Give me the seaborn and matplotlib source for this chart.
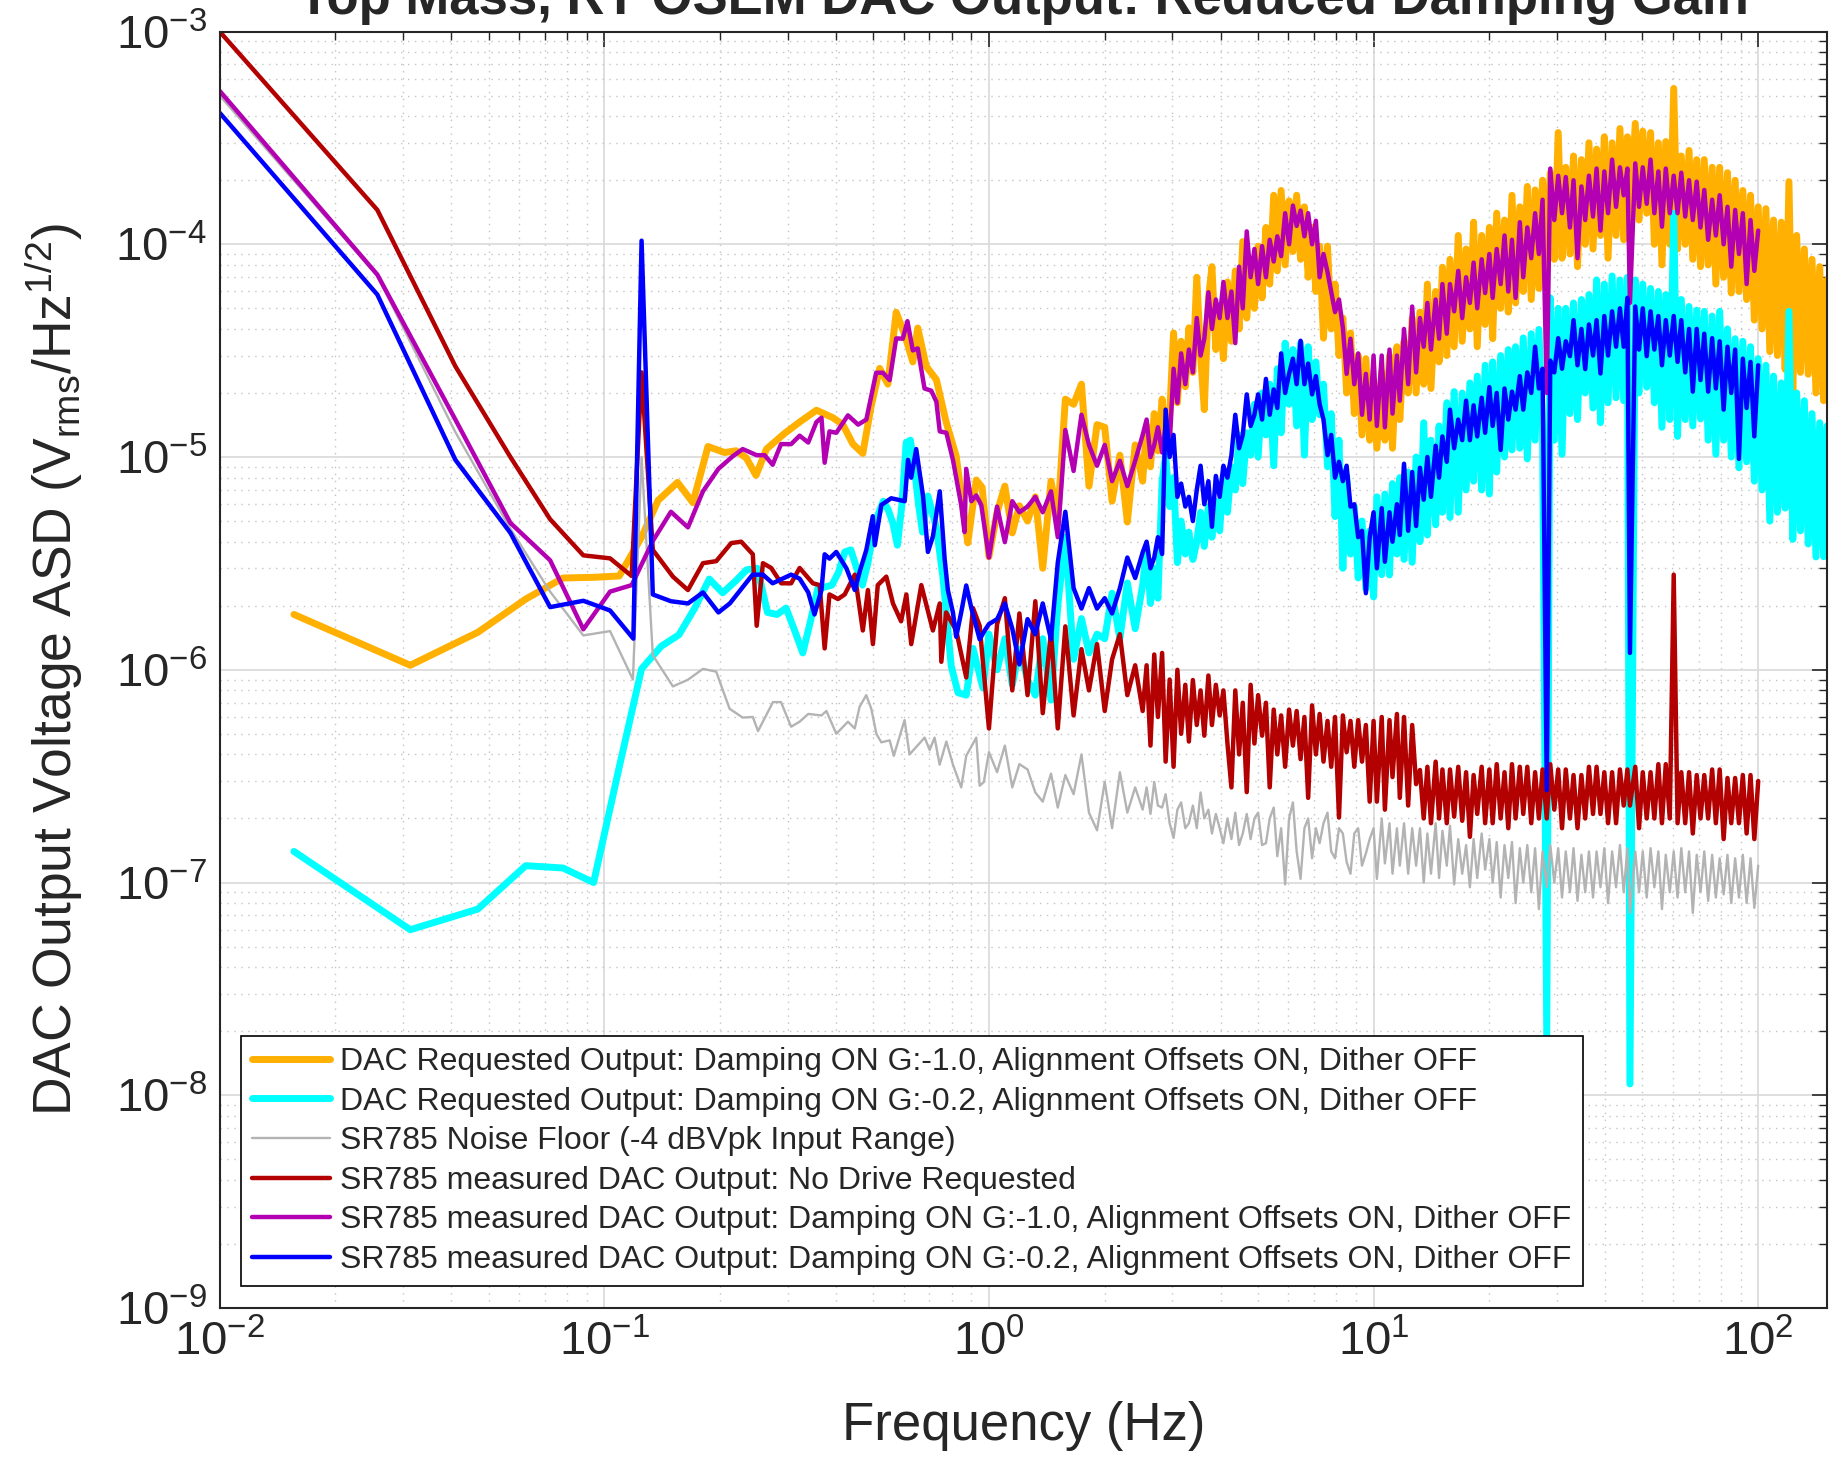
import numpy as np
import pandas as pd
import matplotlib
matplotlib.use('Agg')
import matplotlib.pyplot as plt
import seaborn as sns
from matplotlib.ticker import LogLocator, NullFormatter, LogFormatterSciNotation

# ---------------------------
# data
# ---------------------------

# shared frequency grid for the dense part of the spectra (Hz)
f_band = [
    1.0, 1.05, 1.1, 1.15, 1.2, 1.26, 1.32, 1.38, 1.45, 1.51,
    1.58, 1.66, 1.74, 1.82, 1.91, 2.0, 2.09, 2.19, 2.29, 2.4,
    # finer above 2.5 Hz
    2.51, 2.57, 2.63, 2.69, 2.75, 2.82, 2.88, 2.95, 3.02, 3.09,
    3.16, 3.24, 3.31, 3.39, 3.47, 3.55, 3.63, 3.72, 3.8, 3.89,
    3.98, 4.07, 4.17, 4.27, 4.37, 4.47, 4.57, 4.68, 4.79, 4.9,
    5.01, 5.13, 5.25, 5.37, 5.5, 5.62, 5.75, 5.89, 6.03, 6.17,
    6.31, 6.46, 6.61, 6.76, 6.92, 7.08, 7.24, 7.41, 7.59, 7.76,
    7.94, 8.13, 8.32, 8.51, 8.71, 8.91, 9.12, 9.33, 9.55, 9.77,
    10.0, 10.2, 10.5, 10.7, 11.0, 11.2, 11.5, 11.7, 12.0, 12.3,
    12.6, 12.9, 13.2, 13.5, 13.8, 14.1, 14.5, 14.8, 15.1, 15.5,
    15.8, 16.2, 16.6, 17.0, 17.4, 17.8, 18.2, 18.6, 19.1, 19.5,
    20.0, 20.4, 20.9, 21.4, 21.9, 22.4, 22.9, 23.4, 24.0, 24.5,
    25.1, 25.7, 26.3, 26.9, 27.5, 28.2, 28.8, 29.5, 30.2, 30.9,
    31.6, 32.4, 33.1, 33.9, 34.7, 35.5, 36.3, 37.2, 38.0, 38.9,
    39.8, 40.7, 41.7, 42.7, 43.7, 44.7, 45.7, 46.4, 47.9, 49.0,
    50.1, 51.3, 52.5, 53.7, 55.0, 56.2, 57.5, 58.9, 60.3, 61.7,
    63.1, 64.6, 66.1, 67.6, 69.2, 70.8, 72.4, 74.1, 75.9, 77.6,
    79.4, 81.3, 83.2, 85.1, 87.1, 89.1, 91.2, 93.3, 95.5, 97.7,
    100.0, 102.3, 104.7, 107.2, 109.6, 112.2, 114.8, 117.5, 120.2, 123.0,
    125.9, 128.8, 131.8, 134.9, 138.0, 141.3, 144.5, 147.9, 151.0]

# DAC requested output, damping G:-1.0 (orange)
f_orange_low = [0.0156, 0.0313, 0.0469, 0.0625, 0.0781, 0.0938, 0.1094, 0.125, 0.138, 0.155,
                0.170, 0.186, 0.2055, 0.220, 0.234, 0.248, 0.264, 0.294, 0.322, 0.356,
                0.393, 0.417, 0.443, 0.470, 0.494, 0.520, 0.546, 0.574, 0.604, 0.634,
                0.653, 0.687, 0.730, 0.774, 0.822, 0.881, 0.927, 0.960]
asd_orange_low = [1.82e-6, 1.05e-6, 1.5e-6, 2.15e-6, 2.7e-6, 2.72e-6, 2.76e-6, 4.2e-6, 6.25e-6, 7.6e-6,
                  6.1e-6, 1.12e-5, 1.05e-5, 1.07e-5, 9.9e-6, 8.2e-6, 1.09e-5, 1.29e-5, 1.46e-5, 1.66e-5,
                  1.53e-5, 1.42e-5, 1.15e-5, 1.04e-5, 1.73e-5, 2.61e-5, 2.2e-5, 4.79e-5, 3.76e-5, 2.8e-5,
                  4.04e-5, 2.67e-5, 2.31e-5, 1.46e-5, 1.01e-5, 3.95e-6, 7.8e-6, 7.2e-6]
asd_orange_band = [
    3.4e-6, 5.5e-6, 7.3e-6, 4.4e-6, 5.9e-6, 5.0e-6, 6.5e-6, 3.0e-6, 7.7e-6, 5.2e-6,
    1.87e-5, 1.77e-5, 2.2e-5, 7.3e-6, 1.42e-5, 1.38e-5, 6.2e-6, 1.02e-5, 4.95e-6, 1.14e-5,
    7.7e-6, 1.4e-5, 9.0e-6, 1.6e-5, 1.07e-5, 1.87e-5, 1.2e-5, 1.58e-5, 3.83e-5, 1.8e-5,
    3.5e-5, 2.14e-5, 4.05e-5, 2.5e-5, 7.0e-5, 3.0e-5, 1.67e-5, 5.5e-5, 7.85e-5, 3.2e-5,
    5.0e-5, 2.9e-5, 6.65e-5, 3.5e-5, 7.5e-5, 4.0e-5, 1.03e-4, 4.5e-5, 8.5e-5, 5.0e-5,
    9.8e-5, 5.6e-5, 1.2e-4, 6.5e-5, 1.7e-4, 7.5e-5, 1.79e-4, 8.0e-5, 1.6e-4, 9.25e-5,
    1.7e-4, 8.5e-5, 1.5e-4, 7.0e-5, 1.2e-4, 6.0e-5, 9.8e-5, 3.62e-5, 9.8e-5, 4.0e-5,
    6.5e-5, 3.0e-5, 4.5e-5, 2.0e-5, 3.83e-5, 1.6e-5, 3.0e-5, 1.27e-5, 2.9e-5, 1.2e-5,
    2.3e-5, 1.1e-5, 2.5e-5, 1.2e-5, 3.0e-5, 1.1e-5, 3.3e-5, 1.5e-5, 3.5e-5, 2.0e-5,
    4.5e-5, 2.0e-5, 4.8e-5, 2.2e-5, 6.5e-5, 2.1e-5, 6.0e-5, 2.8e-5, 7.8e-5, 3.0e-5,
    8.5e-5, 3.3e-5, 1.1e-4, 3.5e-5, 9.5e-5, 4.0e-5, 1.27e-4, 3.3e-5, 1.1e-4, 4.2e-5,
    1.2e-4, 3.6e-5, 1.4e-4, 5.0e-5, 1.3e-4, 4.8e-5, 1.7e-4, 5.3e-5, 1.5e-4, 6.0e-5,
    1.87e-4, 5.5e-5, 1.8e-4, 6.2e-5, 2.0e-4, 7.5e-5, 2.17e-4, 8.5e-5, 3.35e-4, 8.6e-5,
    2.3e-4, 9.0e-5, 2.6e-4, 7.85e-5, 2.5e-4, 1.0e-4, 3.0e-4, 9.5e-5, 2.8e-4, 1.1e-4,
    3.2e-4, 8.6e-5, 3.0e-4, 1.1e-4, 3.5e-4, 1.05e-4, 3.2e-4, 1.2e-4, 3.7e-4, 1.3e-4,
    3.4e-4, 1.4e-4, 3.35e-4, 1.0e-4, 3.0e-4, 8.0e-5, 3.04e-4, 1.0e-4, 5.4e-4, 9.5e-5,
    2.6e-4, 1.0e-4, 2.76e-4, 8.5e-5, 2.5e-4, 7.85e-5, 2.5e-4, 8.0e-5, 2.3e-4, 6.5e-5,
    2.3e-4, 7.0e-5, 2.17e-4, 5.9e-5, 2.0e-4, 6.0e-5, 1.79e-4, 5.5e-5, 1.7e-4, 4.4e-5,
    1.5e-4, 4.0e-5, 1.47e-4, 3.13e-5, 1.3e-4, 3.0e-5, 1.27e-4, 2.58e-5, 1.97e-4, 2.03e-5,
    1.1e-4, 2.5e-5, 9.5e-5, 2.45e-5, 8.5e-5, 2.0e-5, 7.85e-5, 1.84e-5, 6.8e-5]

# DAC requested output, damping G:-0.2 (cyan)
f_cyan_low = [0.0156, 0.0313, 0.0469, 0.0625, 0.0781, 0.0938, 0.1094, 0.125, 0.1406, 0.1563,
              0.1719, 0.1875, 0.2031, 0.2188, 0.2344, 0.25, 0.2656, 0.2813, 0.2969, 0.3125,
              0.3281, 0.3438, 0.3594, 0.375, 0.3906, 0.4063, 0.4219, 0.4375, 0.4531, 0.4688,
              0.4844, 0.5, 0.5156, 0.5313, 0.5469, 0.5625, 0.5781, 0.5938, 0.6094, 0.625,
              0.6406, 0.6563, 0.6719, 0.694, 0.73, 0.759, 0.798, 0.831, 0.873, 0.909, 0.965]
asd_cyan_low = [1.4e-7, 6.0e-8, 7.5e-8, 1.2e-7, 1.17e-7, 1.0e-7, 3.5e-7, 1.01e-6, 1.29e-6, 1.46e-6,
                1.95e-6, 2.67e-6, 2.3e-6, 2.6e-6, 2.95e-6, 3.0e-6, 1.86e-6, 1.82e-6, 1.95e-6, 1.53e-6,
                1.2e-6, 1.7e-6, 2.43e-6, 2.45e-6, 2.5e-6, 2.87e-6, 3.58e-6, 3.66e-6, 3.0e-6, 2.5e-6,
                3.17e-6, 4.44e-6, 5.4e-6, 6.2e-6, 5.67e-6, 4.9e-6, 3.85e-6, 5.95e-6, 1.17e-5, 1.2e-5,
                8.8e-6, 5.95e-6, 4.44e-6, 6.56e-6, 4.67e-6, 2.74e-6, 1.04e-6, 7.8e-7, 7.6e-7, 1.26e-6, 8.2e-7]
asd_cyan_band = [
    1.47e-6, 1.0e-6, 1.4e-6, 8.5e-7, 1.25e-6, 9.0e-7, 7.6e-7, 1.4e-6, 7.2e-7, 2.0e-6,
    4.2e-6, 1.12e-6, 1.74e-6, 1.2e-6, 1.47e-6, 1.4e-6, 2.29e-6, 1.4e-6, 2.56e-6, 1.56e-6,
    2.5e-6, 3.77e-6, 2.05e-6, 3.0e-6, 2.17e-6, 7.7e-6, 1.02e-5, 5.85e-6, 8.0e-6, 3.19e-6,
    5.0e-6, 3.5e-6, 4.44e-6, 3.3e-6, 4.0e-6, 5.5e-6, 3.8e-6, 5.85e-6, 4.2e-6, 6.2e-6,
    4.5e-6, 8.15e-6, 5.5e-6, 9.0e-6, 7.0e-6, 1.27e-5, 7.5e-6, 1.3e-5, 1.02e-5, 1.77e-5,
    1.0e-5, 2.0e-5, 1.27e-5, 2.2e-5, 9.1e-6, 2.6e-5, 1.3e-5, 3.43e-5, 1.77e-5, 3.2e-5,
    1.4e-5, 3.43e-5, 1.02e-5, 3.3e-5, 1.5e-5, 2.8e-5, 1.58e-5, 2.2e-5, 9.0e-6, 1.6e-5,
    5.25e-6, 1.2e-5, 3.0e-6, 8.15e-6, 3.5e-6, 5.85e-6, 2.7e-6, 5.0e-6, 2.4e-6, 4.5e-6,
    2.2e-6, 6.5e-6, 2.8e-6, 6.7e-6, 2.79e-6, 7.5e-6, 3.5e-6, 8.0e-6, 3.3e-6, 8.5e-6,
    3.2e-6, 1.0e-5, 4.0e-6, 1.45e-5, 4.3e-6, 1.2e-5, 4.8e-6, 1.4e-5, 5.5e-6, 1.8e-5,
    5.2e-6, 2.03e-5, 5.5e-6, 2.0e-5, 7.0e-6, 2.23e-5, 7.7e-6, 2.4e-5, 7.0e-6, 2.7e-5,
    6.7e-6, 2.8e-5, 8.5e-6, 3.0e-5, 1.0e-5, 3.2e-5, 1.08e-5, 3.3e-5, 1.1e-5, 3.63e-5,
    9.8e-6, 3.8e-5, 1.2e-5, 3.98e-5, 1.4e-5, 1.88e-8, 5.6e-5, 1.2e-5, 5.0e-5, 1.03e-5,
    5.0e-5, 1.6e-5, 5.3e-5, 1.5e-5, 5.5e-5, 2.0e-5, 5.8e-5, 1.7e-5, 6.8e-5, 1.45e-5,
    6.5e-5, 1.8e-5, 7.1e-5, 1.9e-5, 6.8e-5, 1.84e-5, 7.0e-5, 1.13e-8, 6.8e-5, 2.0e-5,
    6.5e-5, 2.13e-5, 6.2e-5, 1.8e-5, 6.0e-5, 1.38e-5, 5.8e-5, 1.5e-5, 1.4e-4, 1.25e-5,
    5.5e-5, 1.5e-5, 5.1e-5, 1.4e-5, 4.9e-5, 1.51e-5, 4.84e-5, 1.2e-5, 4.6e-5, 1.03e-5,
    4.84e-5, 1.2e-5, 4.0e-5, 1.0e-5, 3.6e-5, 8.9e-6, 3.5e-5, 9.5e-6, 3.3e-5, 7.7e-6,
    2.9e-5, 7.0e-6, 2.7e-5, 5.0e-6, 2.4e-5, 5.5e-6, 2.23e-5, 5.75e-6, 4.84e-5, 4.1e-6,
    2.0e-5, 4.5e-6, 1.84e-5, 3.9e-6, 1.6e-5, 3.39e-6, 1.45e-5, 3.4e-6, 1.4e-5]

# SR785 noise floor (gray)
f_gray_low = [0.01, 0.0257, 0.041, 0.057, 0.0723, 0.0882, 0.1035, 0.1187, 0.125, 0.1337,
              0.1508, 0.165, 0.1805, 0.1954, 0.2117, 0.229, 0.2433, 0.251, 0.2745, 0.288,
              0.306, 0.322, 0.339, 0.367, 0.378, 0.401, 0.430, 0.4478, 0.461, 0.4798,
              0.4945, 0.5097, 0.525, 0.552, 0.5657, 0.6035, 0.6217, 0.6805, 0.7013, 0.7223,
              0.7444, 0.775, 0.8063, 0.8473, 0.873, 0.927, 0.946, 0.97]
asd_gray_low = [5.0e-4, 7.1e-5, 1.31e-5, 4.6e-6, 2.33e-6, 1.45e-6, 1.52e-6, 9.0e-7, 1.0e-5, 1.17e-6,
                8.35e-7, 8.98e-7, 1.01e-6, 9.8e-7, 6.56e-7, 5.96e-7, 6.0e-7, 5.15e-7, 7.05e-7, 7.05e-7,
                5.4e-7, 5.7e-7, 6.2e-7, 6.1e-7, 6.4e-7, 5.0e-7, 5.7e-7, 5.3e-7, 6.7e-7, 7.6e-7,
                6.56e-7, 5.0e-7, 4.56e-7, 4.66e-7, 3.94e-7, 5.8e-7, 4.0e-7, 4.8e-7, 4.2e-7, 4.8e-7,
                3.58e-7, 4.6e-7, 3.58e-7, 2.8e-7, 3.94e-7, 4.8e-7, 2.85e-7, 2.97e-7]
asd_gray_band = [
    4.1e-7, 3.3e-7, 4.4e-7, 2.8e-7, 3.6e-7, 3.4e-7, 2.65e-7, 2.4e-7, 3.25e-7, 2.25e-7,
    3.2e-7, 2.6e-7, 4.0e-7, 2.13e-7, 1.76e-7, 2.97e-7, 1.8e-7, 3.3e-7, 2.13e-7, 2.8e-7,
    2.2e-7, 2.8e-7, 2.1e-7, 2.97e-7, 2.3e-7, 2.25e-7, 2.6e-7, 1.9e-7, 1.62e-7, 2.2e-7,
    2.38e-7, 1.8e-7, 1.9e-7, 2.3e-7, 1.8e-7, 2.65e-7, 2.0e-7, 2.2e-7, 1.7e-7, 2.1e-7,
    1.8e-7, 1.53e-7, 2.0e-7, 1.6e-7, 2.13e-7, 1.5e-7, 1.7e-7, 2.1e-7, 1.6e-7, 2.0e-7,
    2.13e-7, 1.5e-7, 1.53e-7, 2.0e-7, 2.25e-7, 1.33e-7, 1.8e-7, 9.8e-8, 2.0e-7, 2.38e-7,
    1.4e-7, 1.04e-7, 1.8e-7, 2.0e-7, 1.3e-7, 1.8e-7, 1.53e-7, 1.9e-7, 2.13e-7, 1.4e-7,
    1.3e-7, 1.8e-7, 1.7e-7, 1.25e-7, 1.1e-7, 1.7e-7, 1.8e-7, 1.2e-7, 1.37e-7, 1.6e-7,
    1.8e-7, 1.04e-7, 2.0e-7, 1.23e-7, 1.9e-7, 1.1e-7, 1.8e-7, 1.2e-7, 1.9e-7, 1.1e-7,
    1.8e-7, 1.2e-7, 1.8e-7, 1.0e-7, 1.7e-7, 1.1e-7, 1.9e-7, 1.05e-7, 1.75e-7, 1.2e-7,
    1.85e-7, 9.8e-8, 1.6e-7, 1.1e-7, 1.5e-7, 9.5e-8, 1.6e-7, 1.05e-7, 1.7e-7, 1.15e-7,
    1.6e-7, 1.0e-7, 1.55e-7, 8.5e-8, 1.5e-7, 1.05e-7, 1.55e-7, 8.0e-8, 1.45e-7, 1.0e-7,
    1.5e-7, 9.0e-8, 1.45e-7, 7.5e-8, 1.4e-7, 9.5e-8, 1.5e-7, 1.0e-7, 1.45e-7, 8.5e-8,
    1.4e-7, 9.0e-8, 1.45e-7, 8.2e-8, 1.35e-7, 9.0e-8, 1.4e-7, 8.5e-8, 1.4e-7, 9.5e-8,
    1.45e-7, 8.0e-8, 1.4e-7, 9.5e-8, 1.5e-7, 9.0e-8, 1.45e-7, 7.2e-8, 1.4e-7, 9.0e-8,
    1.4e-7, 8.5e-8, 1.45e-7, 9.5e-8, 1.4e-7, 7.5e-8, 1.35e-7, 9.0e-8, 1.4e-7, 8.5e-8,
    1.45e-7, 9.0e-8, 1.4e-7, 7.2e-8, 1.35e-7, 9.0e-8, 1.4e-7, 8.2e-8, 1.35e-7, 8.5e-8,
    1.3e-7, 8.8e-8, 1.35e-7, 8.0e-8, 1.3e-7, 8.5e-8, 1.35e-7, 8.0e-8, 1.3e-7, 7.6e-8,
    1.2e-7]

# SR785 measured, no drive (dark red)
f_red_low = [0.01, 0.0257, 0.041, 0.057, 0.0723, 0.0882, 0.1035, 0.1178, 0.125, 0.1337,
             0.1508, 0.165, 0.1805, 0.1954, 0.2138, 0.227, 0.2433, 0.249, 0.2585, 0.2716,
             0.2884, 0.306, 0.322, 0.3485, 0.363, 0.374, 0.385, 0.405, 0.4217, 0.448,
             0.470, 0.4846, 0.4993, 0.514, 0.541, 0.563, 0.591, 0.61, 0.628, 0.667,
             0.715, 0.745, 0.752, 0.774, 0.822, 0.873, 0.909, 0.946]
asd_red_low = [1.0e-3, 1.45e-4, 2.67e-5, 1.0e-5, 5.1e-6, 3.45e-6, 3.34e-6, 2.76e-6, 2.5e-5, 3.66e-6,
               2.74e-6, 2.37e-6, 3.17e-6, 3.24e-6, 3.94e-6, 4.0e-6, 3.49e-6, 1.61e-6, 3.17e-6, 3.01e-6,
               2.55e-6, 2.55e-6, 3.01e-6, 2.55e-6, 2.5e-6, 1.26e-6, 2.26e-6, 2.15e-6, 2.26e-6, 2.8e-6,
               1.53e-6, 2.37e-6, 1.32e-6, 2.5e-6, 2.74e-6, 2.05e-6, 1.69e-6, 2.26e-6, 1.32e-6, 2.5e-6,
               1.53e-6, 2.05e-6, 1.09e-6, 1.86e-6, 1.53e-6, 9.2e-7, 1.95e-6, 1.61e-6]
asd_red_band = [
    5.3e-7, 1.64e-6, 2.17e-6, 8.0e-7, 1.84e-6, 7.6e-7, 2.1e-6, 6.25e-7, 1.51e-6, 5.3e-7,
    1.6e-6, 6.1e-7, 1.25e-6, 8.0e-7, 1.32e-6, 6.4e-7, 1.12e-6, 1.47e-6, 7.6e-7, 1.05e-6,
    6.4e-7, 1.05e-6, 4.4e-7, 1.18e-6, 6.0e-7, 1.2e-6, 3.7e-7, 9.0e-7, 3.5e-7, 1.0e-6,
    5.0e-7, 8.5e-7, 4.6e-7, 8.95e-7, 5.5e-7, 8.0e-7, 4.9e-7, 9.4e-7, 5.5e-7, 8.5e-7,
    6.1e-7, 8.0e-7, 4.5e-7, 2.8e-7, 8.0e-7, 4.0e-7, 7.0e-7, 2.66e-7, 8.5e-7, 4.5e-7,
    7.6e-7, 4.9e-7, 7.0e-7, 2.8e-7, 6.5e-7, 4.0e-7, 6.1e-7, 3.5e-7, 6.5e-7, 4.4e-7,
    6.4e-7, 3.8e-7, 6.0e-7, 2.5e-7, 6.8e-7, 4.0e-7, 6.2e-7, 3.7e-7, 5.75e-7, 3.5e-7,
    6.0e-7, 2.02e-7, 6.1e-7, 4.1e-7, 5.75e-7, 3.5e-7, 5.8e-7, 3.7e-7, 5.5e-7, 2.4e-7,
    5.75e-7, 2.4e-7, 6.0e-7, 2.2e-7, 5.8e-7, 3.13e-7, 6.2e-7, 2.5e-7, 6.0e-7, 2.3e-7,
    5.5e-7, 2.9e-7, 3.38e-7, 2.0e-7, 3.5e-7, 1.9e-7, 3.7e-7, 2.0e-7, 3.4e-7, 1.9e-7,
    3.4e-7, 2.04e-7, 3.5e-7, 1.95e-7, 3.3e-7, 1.64e-7, 3.2e-7, 2.1e-7, 3.5e-7, 1.9e-7,
    3.4e-7, 1.9e-7, 3.6e-7, 2.0e-7, 3.3e-7, 1.8e-7, 3.6e-7, 2.0e-7, 3.5e-7, 2.1e-7,
    3.5e-7, 1.9e-7, 3.3e-7, 2.0e-7, 3.4e-7, 2.0e-7, 3.6e-7, 2.2e-7, 3.4e-7, 1.8e-7,
    3.4e-7, 2.0e-7, 3.2e-7, 1.8e-7, 3.2e-7, 2.0e-7, 3.5e-7, 2.1e-7, 3.5e-7, 2.1e-7,
    3.3e-7, 1.9e-7, 3.3e-7, 1.9e-7, 3.4e-7, 2.3e-7, 3.4e-7, 2.3e-7, 3.5e-7, 1.8e-7,
    3.3e-7, 2.0e-7, 3.3e-7, 2.0e-7, 3.6e-7, 1.9e-7, 3.6e-7, 2.0e-7, 2.8e-6, 1.9e-7,
    3.3e-7, 1.9e-7, 3.3e-7, 1.7e-7, 3.2e-7, 2.0e-7, 3.2e-7, 2.0e-7, 3.4e-7, 1.9e-7,
    3.4e-7, 1.6e-7, 3.1e-7, 1.9e-7, 3.1e-7, 1.9e-7, 3.2e-7, 1.7e-7, 3.2e-7, 1.6e-7,
    3.0e-7]

# SR785 measured, damping G:-1.0 (magenta)
f_magenta_low = [0.01, 0.0257, 0.041, 0.057, 0.0723, 0.0882, 0.1035, 0.1178, 0.1337, 0.149,
                 0.165, 0.1805, 0.198, 0.216, 0.229, 0.249, 0.261, 0.274, 0.288, 0.306,
                 0.322, 0.339, 0.356, 0.367, 0.374, 0.385, 0.401, 0.43, 0.457, 0.48,
                 0.509, 0.53, 0.552, 0.574, 0.597, 0.614, 0.634, 0.653, 0.68, 0.708,
                 0.73, 0.745, 0.775, 0.806, 0.847, 0.864, 0.873, 0.9, 0.927, 0.955]
asd_magenta_low = [5.26e-4, 7.2e-5, 1.5e-5, 4.9e-6, 3.27e-6, 1.55e-6, 2.33e-6, 2.5e-6, 4.03e-6, 5.53e-6,
                   4.67e-6, 6.9e-6, 8.8e-6, 1.01e-5, 1.09e-5, 1.02e-5, 1.02e-5, 9.2e-6, 1.15e-5, 1.15e-5,
                   1.26e-5, 1.17e-5, 1.46e-5, 1.53e-5, 9.4e-6, 1.32e-5, 1.3e-5, 1.57e-5, 1.42e-5, 1.5e-5,
                   2.49e-5, 2.49e-5, 2.3e-5, 3.61e-5, 3.6e-5, 4.35e-5, 3.17e-5, 3.24e-5, 2.1e-5, 2.05e-5,
                   1.82e-5, 1.32e-5, 1.3e-5, 9.7e-6, 5.95e-6, 4.44e-6, 8.8e-6, 6.2e-6, 6.6e-6, 5.95e-6]
asd_magenta_band = [
    3.37e-6, 5.85e-6, 3.98e-6, 6.2e-6, 5.5e-6, 5.85e-6, 6.5e-6, 5.5e-6, 6.9e-6, 4.2e-6,
    1.34e-5, 8.6e-6, 1.58e-5, 1.14e-5, 9.1e-6, 1.14e-5, 7.7e-6, 9.6e-6, 7.3e-6, 9.6e-6,
    1.27e-5, 1.5e-5, 1.0e-5, 1.14e-5, 1.38e-5, 1.05e-5, 1.4e-5, 1.14e-5, 2.6e-5, 1.8e-5,
    3.07e-5, 2.2e-5, 3.2e-5, 2.5e-5, 4.5e-5, 3.0e-5, 3.6e-5, 5.95e-5, 4.0e-5, 5.5e-5,
    4.5e-5, 6.65e-5, 4.5e-5, 6.0e-5, 3.43e-5, 7.85e-5, 5.0e-5, 1.15e-4, 7.0e-5, 9.5e-5,
    6.5e-5, 9.8e-5, 7.0e-5, 1.05e-4, 8.3e-5, 1.09e-4, 8.8e-5, 1.4e-4, 1.0e-4, 1.52e-4,
    1.22e-4, 1.44e-4, 1.09e-4, 1.4e-4, 1.0e-4, 1.29e-4, 7.0e-5, 9.0e-5, 7.4e-5, 6.0e-5,
    4.8e-5, 5.5e-5, 4.05e-5, 2.46e-5, 3.6e-5, 2.2e-5, 3.07e-5, 1.58e-5, 2.46e-5, 1.5e-5,
    3.0e-5, 1.4e-5, 3.0e-5, 1.38e-5, 3.2e-5, 1.6e-5, 3.0e-5, 1.84e-5, 4.0e-5, 2.2e-5,
    5.1e-5, 2.5e-5, 4.5e-5, 3.3e-5, 5.3e-5, 3.2e-5, 5.5e-5, 3.6e-5, 6.5e-5, 3.8e-5,
    6.5e-5, 4.84e-5, 7.5e-5, 4.5e-5, 7.0e-5, 5.3e-5, 8.2e-5, 5.0e-5, 8.5e-5, 5.9e-5,
    9.0e-5, 5.6e-5, 9.5e-5, 6.5e-5, 1.1e-4, 6.0e-5, 1.05e-4, 5.6e-5, 1.27e-4, 7.0e-5,
    1.2e-4, 8.6e-5, 1.4e-4, 9.0e-5, 1.62e-4, 2.0e-5, 2.27e-4, 1.3e-4, 2.1e-4, 1.4e-4,
    2.07e-4, 1.2e-4, 2.0e-4, 8.6e-5, 1.87e-4, 1.3e-4, 2.1e-4, 1.35e-4, 2.27e-4, 1.16e-4,
    2.2e-4, 1.4e-4, 2.5e-4, 1.5e-4, 2.3e-4, 1.7e-4, 2.27e-4, 5.3e-5, 2.4e-4, 1.5e-4,
    2.3e-4, 1.55e-4, 2.5e-4, 1.4e-4, 2.2e-4, 1.21e-4, 2.27e-4, 1.4e-4, 2.1e-4, 1.4e-4,
    2.17e-4, 1.35e-4, 2.0e-4, 1.3e-4, 1.97e-4, 1.2e-4, 1.8e-4, 1.05e-4, 1.62e-4, 1.1e-4,
    1.7e-4, 1.0e-4, 1.5e-4, 7.85e-5, 1.45e-4, 9.0e-5, 1.4e-4, 6.5e-5, 1.3e-4, 7.5e-5,
    1.16e-4]

# SR785 measured, damping G:-0.2 (blue)
f_blue_low = [0.01, 0.0257, 0.041, 0.057, 0.0723, 0.0882, 0.1035, 0.119, 0.125, 0.1337,
              0.149, 0.165, 0.1805, 0.198, 0.212, 0.243, 0.2585, 0.274, 0.306, 0.322,
              0.339, 0.352, 0.367, 0.374, 0.385, 0.401, 0.426, 0.448, 0.461, 0.48,
              0.499, 0.505, 0.525, 0.557, 0.604, 0.616, 0.628, 0.647, 0.674, 0.694,
              0.715, 0.745, 0.767, 0.782, 0.806, 0.822, 0.847, 0.873, 0.9, 0.946, 0.975]
asd_blue_low = [4.15e-4, 5.8e-5, 9.7e-6, 4.4e-6, 1.97e-6, 2.11e-6, 1.9e-6, 1.4e-6, 1.04e-4, 2.26e-6,
                2.1e-6, 2.05e-6, 2.31e-6, 1.86e-6, 2.05e-6, 2.8e-6, 2.8e-6, 2.55e-6, 2.8e-6, 2.68e-6,
                2.31e-6, 1.82e-6, 2.37e-6, 3.49e-6, 3.33e-6, 3.58e-6, 3.0e-6, 2.37e-6, 2.88e-6, 3.66e-6,
                5.27e-6, 3.85e-6, 5.95e-6, 6.4e-6, 6.2e-6, 9.7e-6, 8.0e-6, 1.09e-5, 6.56e-6, 3.58e-6,
                4.23e-6, 6.9e-6, 3.33e-6, 2.37e-6, 1.86e-6, 1.43e-6, 1.86e-6, 2.49e-6, 1.95e-6, 1.39e-6, 1.53e-6]
asd_blue_band = [
    1.64e-6, 1.73e-6, 2.05e-6, 1.56e-6, 1.06e-6, 1.73e-6, 1.47e-6, 2.05e-6, 1.39e-6, 3.19e-6,
    5.53e-6, 2.42e-6, 1.94e-6, 2.42e-6, 1.94e-6, 2.17e-6, 1.84e-6, 2.42e-6, 3.37e-6, 2.7e-6,
    3.56e-6, 4.0e-6, 3.0e-6, 3.37e-6, 4.2e-6, 3.5e-6, 1.67e-5, 1.0e-5, 1.27e-5, 6.5e-6,
    7.5e-6, 5.85e-6, 6.5e-6, 5.0e-6, 7.0e-6, 9.1e-6, 6.0e-6, 7.7e-6, 4.7e-6, 8.15e-6,
    6.5e-6, 9.1e-6, 8.0e-6, 1.02e-5, 1.58e-5, 1.1e-5, 1.27e-5, 1.97e-5, 1.4e-5, 1.58e-5,
    1.97e-5, 1.5e-5, 2.33e-5, 1.58e-5, 2.08e-5, 1.7e-5, 3.07e-5, 2.0e-5, 2.46e-5, 2.9e-5,
    2.2e-5, 3.52e-5, 2.2e-5, 2.75e-5, 1.97e-5, 2.4e-5, 1.77e-5, 1.5e-5, 1.02e-5, 1.27e-5,
    8.0e-6, 9.5e-6, 7.7e-6, 9.1e-6, 5.85e-6, 6.0e-6, 4.2e-6, 4.5e-6, 2.29e-6, 4.2e-6,
    5.5e-6, 3.0e-6, 5.75e-6, 3.22e-6, 5.5e-6, 4.0e-6, 6.0e-6, 4.3e-6, 9.3e-6, 4.5e-6,
    8.5e-6, 4.74e-6, 8.9e-6, 6.3e-6, 1.0e-5, 6.5e-6, 1.13e-5, 8.0e-6, 1.25e-5, 9.5e-6,
    1.67e-5, 1.1e-5, 1.5e-5, 1.2e-5, 1.84e-5, 1.2e-5, 1.75e-5, 1.25e-5, 1.9e-5, 1.3e-5,
    2.13e-5, 1.4e-5, 2.0e-5, 1.08e-5, 2.1e-5, 1.5e-5, 2.03e-5, 1.67e-5, 2.4e-5, 1.67e-5,
    2.5e-5, 2.0e-5, 3.3e-5, 2.1e-5, 2.6e-5, 2.72e-7, 2.84e-5, 2.5e-5, 3.62e-5, 2.6e-5,
    3.5e-5, 2.98e-5, 4.4e-5, 2.7e-5, 4.0e-5, 2.59e-5, 4.2e-5, 3.0e-5, 4.4e-5, 2.47e-5,
    4.6e-5, 3.0e-5, 4.84e-5, 3.3e-5, 5.0e-5, 3.3e-5, 5.6e-5, 1.2e-6, 5.1e-5, 3.2e-5,
    5.0e-5, 2.98e-5, 4.84e-5, 3.2e-5, 4.6e-5, 2.7e-5, 4.4e-5, 3.0e-5, 4.6e-5, 2.8e-5,
    4.4e-5, 2.5e-5, 4.0e-5, 2.03e-5, 4.0e-5, 2.3e-5, 3.8e-5, 2.03e-5, 3.62e-5, 2.1e-5,
    3.5e-5, 1.67e-5, 3.3e-5, 2.0e-5, 3.2e-5, 9.8e-6, 2.9e-5, 1.7e-5, 2.8e-5, 1.25e-5,
    2.7e-5]

labels = [
    'DAC Requested Output: Damping ON G:-1.0, Alignment Offsets ON, Dither OFF',
    'DAC Requested Output: Damping ON G:-0.2, Alignment Offsets ON, Dither OFF',
    'SR785 Noise Floor (-4 dBVpk Input Range)',
    'SR785 measured DAC Output: No Drive Requested',
    'SR785 measured DAC Output: Damping ON G:-1.0, Alignment Offsets ON, Dither OFF',
    'SR785 measured DAC Output: Damping ON G:-0.2, Alignment Offsets ON, Dither OFF',
]
colors = ['#FFB000', '#00FFFF', '#B3B3B3', '#B30000', '#B300B3', '#0000FF']
widths = [5.0, 5.0, 1.7, 3.2, 3.2, 3.2]

curves = [
    (f_orange_low, asd_orange_low, asd_orange_band),
    (f_cyan_low, asd_cyan_low, asd_cyan_band),
    (f_gray_low, asd_gray_low, asd_gray_band),
    (f_red_low, asd_red_low, asd_red_band),
    (f_magenta_low, asd_magenta_low, asd_magenta_band),
    (f_blue_low, asd_blue_low, asd_blue_band),
]

# ---------------------------
# figure
# ---------------------------
sns.set_theme(style='white')
plt.rcParams['font.family'] = ['Liberation Sans', 'DejaVu Sans']
plt.rcParams['mathtext.fontset'] = 'custom'
plt.rcParams['mathtext.rm'] = 'Liberation Sans'
plt.rcParams['mathtext.it'] = 'Liberation Sans:italic'
plt.rcParams['mathtext.bf'] = 'Liberation Sans:bold'

fig = plt.figure(figsize=(18.32, 14.6), dpi=100)
ax = fig.add_axes([0.1199, 0.1041, 0.8774, 0.8743])
ax.set_xscale('log')
ax.set_yscale('log')

for (f_low, v_low, v_band), lab, col, lw in zip(curves, labels, colors, widths):
    if len(v_band) > len(f_band):
        print('band too long:', lab, len(v_band))
    n = min(len(v_band), len(f_band))
    f = list(f_low) + f_band[:n]
    v = list(v_low) + list(v_band[:n])
    sns.lineplot(x=f, y=v, ax=ax, sort=False, estimator=None,
                 color=col, linewidth=lw, label=lab)

ax.set_xlim(0.01, 151)
ax.set_ylim(1e-9, 1e-3)

ax.xaxis.set_major_locator(LogLocator(base=10, numticks=20))
ax.yaxis.set_major_locator(LogLocator(base=10, numticks=20))
ax.xaxis.set_minor_locator(LogLocator(base=10, subs=np.arange(2, 10), numticks=100))
ax.yaxis.set_minor_locator(LogLocator(base=10, subs=np.arange(2, 10), numticks=100))
ax.xaxis.set_major_formatter(LogFormatterSciNotation())
ax.yaxis.set_major_formatter(LogFormatterSciNotation())
ax.xaxis.set_minor_formatter(NullFormatter())
ax.yaxis.set_minor_formatter(NullFormatter())

ax.grid(which='major', color='#d9d9d9', linewidth=1.2, linestyle='-')
ax.grid(which='minor', color='#c4c4c4', linewidth=1.0, linestyle=(0, (1, 4)))
ax.set_axisbelow(True)

ax.tick_params(which='both', direction='in', top=True, right=True, colors='#262626')
ax.tick_params(which='major', length=11, width=1.2, labelsize=34, pad=9)
ax.tick_params(which='minor', length=6, width=1.0)
for s in ax.spines.values():
    s.set_color('#262626')
    s.set_linewidth(1.5)

ax.set_xlabel('Frequency (Hz)', fontsize=38, color='#262626')
ax.xaxis.set_label_coords(0.5, -0.0729)
ax.set_ylabel(r'DAC Output Voltage ASD (V$_{\mathrm{rms}}$/Hz$^{1/2}$)', fontsize=38.5,
              labelpad=22, color='#262626')
ax.set_title('Top Mass, RT OSEM DAC Output: Reduced Damping Gain',
             fontsize=38, fontweight='bold', pad=12.6)

leg = ax.legend(loc='lower left', bbox_to_anchor=(0.0133, 0.0172), borderaxespad=0,
                fontsize=23, frameon=True, fancybox=False, edgecolor='black',
                framealpha=1, handlelength=2.45, handletextpad=0.3,
                labelspacing=0.3, borderpad=0.35)
leg.get_frame().set_linewidth(1.2)

fig.savefig('out.png', dpi=100)
